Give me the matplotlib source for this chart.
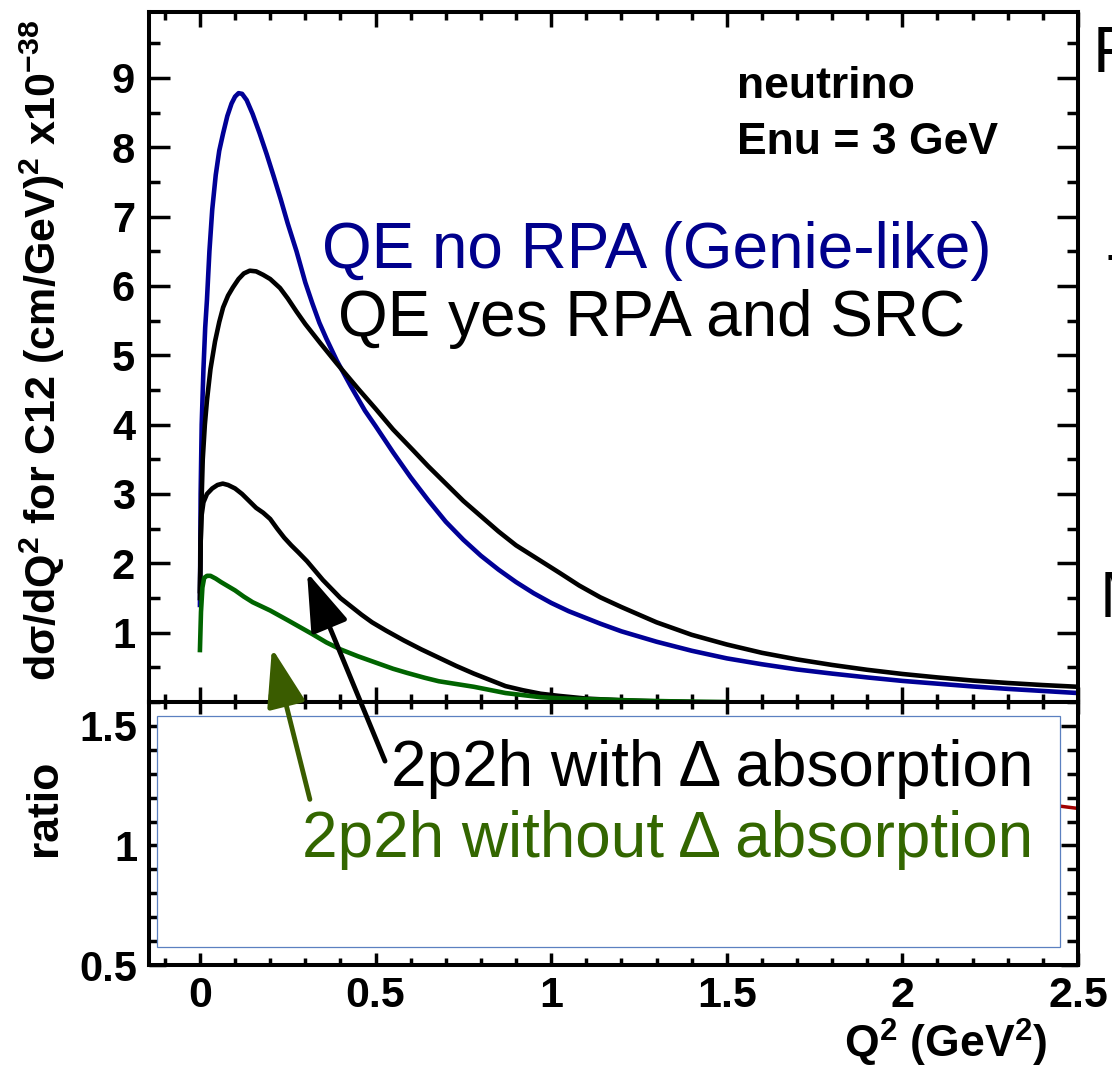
import matplotlib
matplotlib.use("Agg")
import matplotlib.pyplot as plt
import matplotlib.ticker as mticker
from matplotlib.patches import Rectangle

# ===================== data =====================
# QE no RPA (Genie-like), blue
q2_qe_norpa = [0.0, 0.002, 0.005, 0.01, 0.015, 0.02, 0.027, 0.035, 0.045, 0.055,
               0.066, 0.078, 0.09, 0.1, 0.11, 0.12, 0.133, 0.15, 0.17, 0.19,
               0.21, 0.23, 0.25, 0.275, 0.3, 0.32, 0.34, 0.36, 0.39, 0.43,
               0.47, 0.5, 0.55, 0.6, 0.65, 0.7, 0.75, 0.8, 0.85,
               0.9, 0.95, 1.0, 1.05, 1.14, 1.2, 1.3, 1.4, 1.5, 1.6,
               1.7, 1.8, 1.9, 2.0, 2.1, 2.2, 2.3, 2.4, 2.5]
xs_qe_norpa = [1.4, 3.0, 4.0, 4.8, 5.4, 5.8, 6.5, 7.1, 7.6, 7.95,
               8.2, 8.45, 8.63, 8.73, 8.78, 8.77, 8.68, 8.48, 8.2, 7.9,
               7.58, 7.25, 6.9, 6.5, 6.05, 5.75, 5.47, 5.24, 4.92, 4.55,
               4.2, 3.98, 3.6, 3.24, 2.91, 2.6, 2.34, 2.11, 1.91,
               1.73, 1.57, 1.43, 1.31, 1.13, 1.02, 0.87, 0.74, 0.63, 0.545,
               0.47, 0.41, 0.355, 0.305, 0.265, 0.225, 0.19, 0.16, 0.13]

# QE yes RPA and SRC, black
q2_qe_rpa = [0.0, 0.003, 0.008, 0.014, 0.02, 0.03, 0.043, 0.055, 0.066, 0.08,
             0.094, 0.11, 0.125, 0.142, 0.16, 0.18, 0.2, 0.228, 0.25, 0.275,
             0.3, 0.342, 0.39, 0.45, 0.5, 0.55, 0.607, 0.65, 0.7, 0.75,
             0.8, 0.85, 0.9, 0.95, 1.025, 1.08, 1.14, 1.2, 1.25, 1.3,
             1.4, 1.5, 1.6, 1.7, 1.8, 1.9, 2.0, 2.1, 2.2, 2.3,
             2.4, 2.5]
xs_qe_rpa = [1.5, 2.6, 3.5, 4.0, 4.35, 4.8, 5.2, 5.48, 5.69, 5.86,
             5.98, 6.1, 6.18, 6.22, 6.21, 6.16, 6.1, 5.97, 5.82, 5.63,
             5.45, 5.18, 4.88, 4.52, 4.23, 3.93, 3.63, 3.4, 3.15, 2.9,
             2.68, 2.46, 2.26, 2.1, 1.86, 1.68, 1.51, 1.37, 1.26, 1.15,
             0.97, 0.83, 0.71, 0.615, 0.535, 0.465, 0.405, 0.355, 0.31, 0.275,
             0.245, 0.22]

# 2p2h with Delta absorption, black
q2_2p2h_d = [0.0, 0.002, 0.005, 0.01, 0.02, 0.035, 0.05, 0.065, 0.08, 0.1,
             0.12, 0.14, 0.16, 0.18, 0.2, 0.22, 0.24, 0.26, 0.28, 0.305,
             0.33, 0.35, 0.375, 0.4, 0.43, 0.46, 0.49, 0.53, 0.58, 0.63,
             0.68, 0.73, 0.78, 0.83, 0.87, 0.92, 0.97, 1.02, 1.1, 1.2,
             1.3, 1.4]
xs_2p2h_d = [1.6, 2.3, 2.7, 2.88, 3.0, 3.08, 3.13, 3.15, 3.13, 3.08,
             3.0, 2.9, 2.8, 2.73, 2.64, 2.5, 2.37, 2.26, 2.16, 2.03,
             1.88, 1.76, 1.63, 1.5, 1.38, 1.26, 1.15, 1.03, 0.89, 0.76,
             0.64, 0.52, 0.41, 0.31, 0.23, 0.17, 0.12, 0.09, 0.05, 0.025,
             0.01, 0.0]

# 2p2h without Delta absorption, green
q2_2p2h_nod = [0.0, 0.003, 0.007, 0.012, 0.02, 0.03, 0.045, 0.06, 0.08, 0.1,
               0.125, 0.15, 0.175, 0.2, 0.225, 0.25, 0.285, 0.32, 0.36, 0.4,
               0.45, 0.5, 0.55, 0.59, 0.64, 0.68, 0.73, 0.78, 0.83, 0.87,
               0.92, 0.97, 1.02, 1.07, 1.16, 1.25, 1.35, 1.5]
xs_2p2h_nod = [0.75, 1.3, 1.65, 1.79, 1.82, 1.82, 1.78, 1.73, 1.67, 1.61,
               1.52, 1.44, 1.38, 1.32, 1.25, 1.18, 1.08, 0.98, 0.86, 0.76,
               0.66, 0.57, 0.48, 0.42, 0.35, 0.3, 0.26, 0.22, 0.17, 0.13,
               0.1, 0.07, 0.055, 0.045, 0.035, 0.02, 0.01, 0.0]

# ratio panel: only the piece outside the white pave is visible
q2_ratio = [2.42, 2.5]
ratio_vals = [1.17, 1.155]

x_ticks = [0, 0.5, 1, 1.5, 2, 2.5]
y_ticks_top = [1, 2, 3, 4, 5, 6, 7, 8, 9]
y_ticks_ratio = [0.5, 1.0, 1.5]

# ===================== style =====================
plt.rcParams['font.family'] = ['Liberation Sans', 'DejaVu Sans']
plt.rcParams['font.weight'] = 'bold'
plt.rcParams['mathtext.fontset'] = 'custom'
plt.rcParams['mathtext.rm'] = 'Liberation Sans:bold'
plt.rcParams['mathtext.bf'] = 'Liberation Sans:bold'
plt.rcParams['mathtext.it'] = 'Liberation Sans:bold:italic'
plt.rcParams['mathtext.default'] = 'rm'

BLUE = '#000096'
BLUE_TXT = '#00008c'
GREEN = '#006400'
GREEN_TXT = '#336600'
GREEN_ARR = '#3a5c00'

fig = plt.figure(figsize=(11.12, 10.72), dpi=100)
ax1 = fig.add_axes([0.134, 0.3451, 0.8354, 0.6437])
ax2 = fig.add_axes([0.134, 0.0998, 0.8354, 0.2453])

fmt = mticker.FuncFormatter(lambda v, p: f"{v:g}")


def style(ax, xmaj, xmin, ymaj, ymin, ypad, xpad):
    for s in ax.spines.values():
        s.set_linewidth(2.9)
    ax.tick_params(which='both', direction='in', top=True, right=True, width=2.5)
    ax.tick_params(axis='x', which='major', length=xmaj, pad=xpad, labelsize=31)
    ax.tick_params(axis='x', which='minor', length=xmin)
    ax.tick_params(axis='y', which='major', length=ymaj, pad=ypad, labelsize=30)
    ax.tick_params(axis='y', which='minor', length=ymin)
    ax.xaxis.set_major_formatter(fmt)
    ax.yaxis.set_major_formatter(fmt)


# ---------- upper panel ----------
ax1.plot(q2_qe_norpa, xs_qe_norpa, color=BLUE, lw=3.3)
ax1.plot(q2_qe_rpa, xs_qe_rpa, color='black', lw=3.3)
ax1.plot(q2_2p2h_d, xs_2p2h_d, color='black', lw=3.3)
ax1.plot(q2_2p2h_nod, xs_2p2h_nod, color=GREEN, lw=3.3)

ax1.set_xlim(-0.145, 2.5)
ax1.set_ylim(0, 9.95)
ax1.set_xticks(x_ticks)
ax1.xaxis.set_minor_locator(mticker.MultipleLocator(0.1))
ax1.set_yticks(y_ticks_top)
ax1.yaxis.set_minor_locator(mticker.MultipleLocator(0.5))
style(ax1, 11, 5.5, 15, 8, 10, 8.5)
ax1.tick_params(labelbottom=False)
ax1.set_ylabel(r"d$\sigma$/dQ$^{2}$ for C12 (cm/GeV)$^{2}$ x10$^{-38}$",
               fontsize=31, fontweight='bold', va='center')
ax1.yaxis.set_label_coords(-0.115, 0.51)

ax1.text(1.529, 8.705, "neutrino", fontsize=32, fontweight='bold')
ax1.text(1.529, 7.9, "Enu = 3 GeV", fontsize=32, fontweight='bold')
ax1.text(2.255, 6.26, "QE no RPA (Genie-like)", color=BLUE_TXT,
         fontsize=46, fontweight='normal', ha='right', va='baseline')
ax1.text(2.178, 5.28, "QE yes RPA and SRC", color='black',
         fontsize=46, fontweight='normal', ha='right', va='baseline')

# ---------- ratio panel ----------
ax2.plot(q2_ratio, ratio_vals, color='#a00000', lw=2.5, zorder=1.8)
ax2.add_patch(Rectangle((-0.122, 0.576), 2.571, 0.966, facecolor='white',
                        edgecolor='#5b80c0', lw=0.9, zorder=2))
ax2.set_xlim(-0.145, 2.5)
ax2.set_ylim(0.5, 1.6)
ax2.set_xticks(x_ticks)
ax2.xaxis.set_minor_locator(mticker.MultipleLocator(0.1))
ax2.set_yticks(y_ticks_ratio)
ax2.yaxis.set_minor_locator(mticker.MultipleLocator(0.1))
style(ax2, 8.5, 5, 12, 8, 8.5, 8)
ax2.set_ylabel("ratio", fontsize=32, fontweight='bold', va='center')
ax2.yaxis.set_label_coords(-0.112, 0.596)
ax2.set_xlabel(r"Q$^{2}$ (GeV$^{2}$)", fontsize=32, fontweight='bold',
               ha='right', va='top')
ax2.xaxis.set_label_coords(0.9666, -0.196)

ax2.text(2.372, 1.248, "2p2h with \u0394 absorption", color='black',
         fontsize=46, fontweight='normal', ha='right', va='baseline', zorder=3)
ax2.text(2.372, 0.95, "2p2h without \u0394 absorption", color=GREEN_TXT,
         fontsize=46, fontweight='normal', ha='right', va='baseline', zorder=3)

# arrows from the ratio-panel labels up to the curves
arr = "-|>,head_length=1.8,head_width=0.6"
ax2.annotate("", xy=(0.305, 1.87), xycoords=ax1.transData,
             xytext=(0.527, 1.353), textcoords=ax2.transData,
             arrowprops=dict(arrowstyle=arr, mutation_scale=20, lw=3.5,
                             color='black', shrinkA=0, shrinkB=0),
             annotation_clip=False, zorder=4)
ax2.annotate("", xy=(0.205, 0.777), xycoords=ax1.transData,
             xytext=(0.313, 1.193), textcoords=ax2.transData,
             arrowprops=dict(arrowstyle=arr, mutation_scale=20, lw=3.5,
                             color=GREEN_ARR, shrinkA=0, shrinkB=0),
             annotation_clip=False, zorder=4)

# pieces of the neighbouring panel cut off at the right edge (as in the reference)
fig.text(0.983, 0.933, "F", fontsize=47, fontweight='normal')
fig.text(0.9955, 0.72, "T", fontsize=47, fontweight='normal')
fig.text(0.989, 0.4244, "M", fontsize=47, fontweight='normal')

fig.savefig("out.png", dpi=100)
